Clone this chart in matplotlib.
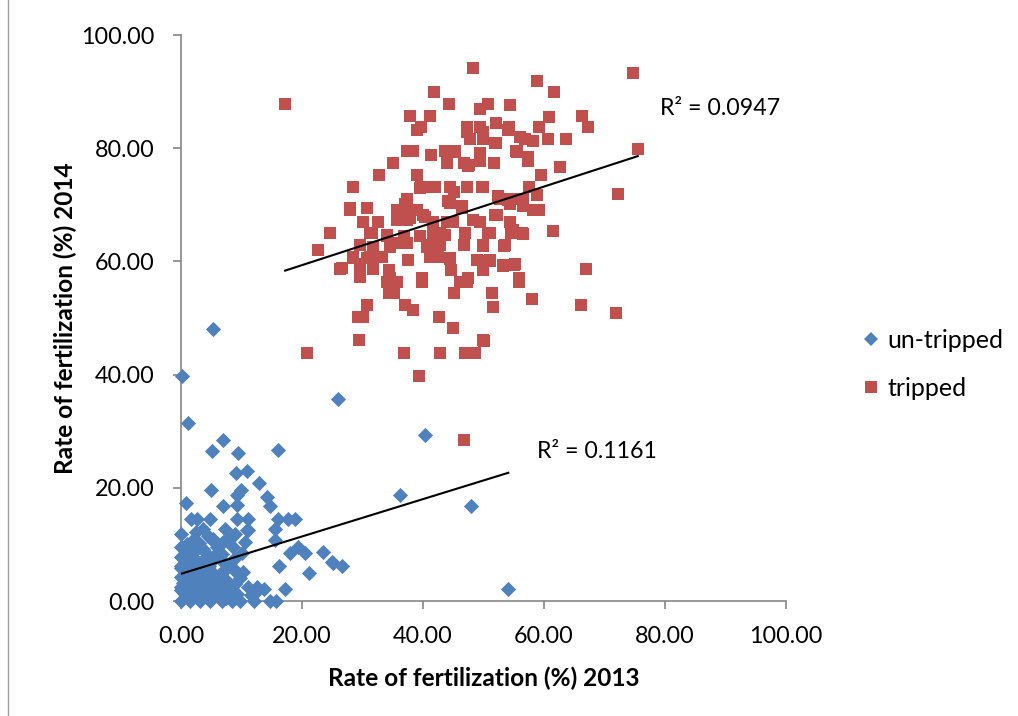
import matplotlib
matplotlib.use("Agg")
import matplotlib.pyplot as plt
from matplotlib.lines import Line2D
import numpy as np

# ---------------- data ----------------
untripped_x = [
    5.3, 0.1, 26.0, 1.2, 6.9, 5.2, 9.5, 16.0, 40.3, 36.2, 47.9, 54.1,
    4.9, 0.8, 7.0, 9.1, 10.9, 12.9, 9.9, 9.3, 14.2, 14.7, 16.1, 17.7, 18.8,
    1.7, 2.7, 4.8, 9.3, 11.0, 15.5, 15.5, 18.0, 19.4, 20.5, 23.5, 24.9, 26.6,
    21.2, 16.2, 17.2, 12.5, 14.7, 25.2, 11.0, 9.2,
    3.6, 7.3, 8.9, 10.9, 0.0, 2.0, 5.3, 7.8, 0.0, 3.7, 5.9, 8.6, 10.0,
    0.0, 2.0, 3.7, 6.4, 8.1, 0.0, 1.5, 4.8, 7.5, 9.2, 0.0, 2.6, 5.6, 7.5, 9.8,
    0.0, 1.5, 3.7, 6.2, 8.4, 11.1, 12.5,
    0.0, 1.5, 3.1, 4.8, 6.7, 8.4, 9.8, 12.0, 15.7,
    0.7, 2.6, 4.8, 7.0, 9.2, 12.0,
    1.0, 3.0, 4.5, 6.0, 2.2, 4.0, 6.5, 1.2, 3.2, 5.2, 7.2, 8.8, 2.5, 4.2,
    6.0, 1.0, 3.0, 5.0, 7.0, 0.5, 2.0, 4.0, 6.0, 8.0, 1.5, 3.5, 5.5, 10.5,
    0.0, 0.8, 2.2, 3.4, 5.8, 7.7, 9.0, 10.2, 1.8, 4.4, 6.8, 8.2, 0.4, 2.8,
    5.0, 7.4, 0.0, 1.2, 3.8, 6.6, 8.7, 2.4, 4.6, 11.6, 13.8,
]
untripped_y = [
    48.0, 39.8, 35.7, 31.4, 28.5, 26.5, 26.2, 26.6, 29.3, 18.8, 16.8, 2.1,
    19.6, 17.4, 16.7, 22.6, 23.0, 20.9, 19.6, 18.7, 18.4, 16.7, 14.5, 14.5, 14.5,
    14.5, 14.5, 14.5, 14.5, 14.5, 12.8, 10.8, 8.4, 9.6, 8.4, 8.7, 6.9, 6.2,
    5.0, 6.2, 2.1, 1.9, 0.0, 6.7, 12.5, 17.0,
    12.7, 12.7, 11.9, 12.5, 11.9, 10.8, 10.9, 10.8, 9.6, 9.2, 9.6, 9.6, 8.4,
    7.8, 7.8, 7.2, 7.5, 6.7, 6.1, 6.1, 5.5, 5.7, 4.9, 4.3, 4.0, 4.0, 3.7, 4.0,
    2.5, 2.5, 2.8, 2.5, 2.2, 2.4, 2.4,
    0.0, 0.0, 0.0, 0.0, 0.0, 0.0, 0.0, 0.0, 0.0,
    1.3, 1.0, 1.3, 1.0, 1.3, 1.3,
    3.5, 3.2, 3.0, 3.3, 5.0, 5.2, 4.8, 7.0, 6.5, 7.0, 6.8, 7.5, 9.0, 8.5,
    10.0, 10.0, 10.3, 11.0, 10.5, 1.5, 1.8, 1.5, 1.2, 1.5, 3.8, 4.5, 8.0, 10.5,
    2.0, 5.3, 6.5, 4.7, 2.0, 1.8, 3.0, 5.2, 9.0, 11.5, 8.3, 11.2, 3.2, 0.6,
    0.6, 0.5, 5.8, 8.6, 1.6, 2.8, 5.6, 12.2, 6.2, 1.0, 2.2,
]

tripped_x = [
    17.2, 48.3, 41.9, 44.3, 49.4, 50.8, 54.4, 37.9, 41.2, 39.7, 47.2, 49.4,
    52.1, 54.2, 47.8, 50.0, 52.0, 55.3, 37.3, 38.3, 41.3, 43.6, 45.3, 43.9,
    46.7, 47.5, 49.4, 49.4, 51.7, 35.0, 32.8, 39.0, 28.4, 39.7, 42.0, 44.5,
    45.2, 47.2, 49.7, 37.3, 44.5, 52.4, 54.4, 28.0, 30.7, 35.7, 38.1, 46.4,
    30.1, 32.6, 35.7, 37.3, 40.0, 41.7, 45.0, 48.3, 51.9, 54.4, 24.6, 31.5,
    22.7, 26.2, 29.6, 31.8, 34.3, 34.0, 35.7, 34.3, 35.2, 39.8, 37.6, 41.2,
    44.5, 44.7, 46.1, 47.2, 45.1, 48.9, 50.0, 51.1, 51.4, 51.5, 53.3, 54.9,
    55.8, 30.7, 29.3, 30.1, 37.0, 38.3, 42.7, 44.9, 29.5, 49.9, 20.9, 36.9,
    42.8, 46.9, 48.6, 39.4, 46.7,
    29.6, 34.0, 35.7, 37.3, 40.6, 42.8, 41.7, 43.6, 46.7, 47.0, 50.0, 51.1,
    53.6, 54.9, 28.5, 29.6, 31.2, 33.2,
    74.7, 58.8, 61.7, 66.2, 67.2, 60.9, 59.2, 56.9, 58.2, 60.6, 63.6, 55.5,
    57.4, 57.4, 75.5, 62.6, 59.5, 72.2, 57.6, 58.9, 56.3, 52.7, 54.1, 58.2,
    59.2, 61.5, 50.8, 54.6, 56.5, 53.4, 50.0, 51.0, 53.3, 55.1, 66.9, 55.9,
    58.0, 66.1, 71.9, 50.1,
    39.0, 39.5, 41.4, 27.9, 47.2, 50.0, 54.0, 56.0, 51.9, 45.0, 55.5, 41.4,
    47.6, 42.0, 50.0, 44.5, 46.4, 52.7, 56.6, 37.0, 36.2, 39.0, 37.9, 40.3,
    31.2, 34.0, 36.8, 39.5, 41.7, 31.8, 34.5, 40.6, 28.5, 30.7, 32.9, 26.6,
    29.6, 34.5, 39.8, 44.2, 52.2, 54.4, 56.6, 43.9, 49.4, 42.8, 46.9, 50.8,
    54.6, 56.3, 42.0, 42.5, 44.5, 50.8, 55.2, 47.5, 55.8,
]
tripped_y = [
    87.8, 94.1, 89.9, 87.8, 87.0, 87.8, 87.6, 85.7, 85.7, 83.7, 83.7, 83.7,
    84.5, 83.7, 81.6, 81.6, 81.0, 79.5, 79.5, 79.5, 78.8, 79.5, 79.5, 77.4,
    77.4, 76.8, 79.1, 77.7, 77.4, 77.4, 75.3, 75.3, 73.2, 73.2, 73.2, 73.2,
    72.3, 73.2, 73.2, 71.1, 70.3, 71.5, 71.0, 69.1, 69.4, 69.1, 69.1, 69.4,
    67.0, 67.0, 67.3, 67.3, 68.2, 67.0, 67.0, 67.3, 68.2, 67.0, 65.0, 65.0,
    62.1, 58.6, 58.6, 58.6, 58.5, 56.4, 56.4, 54.4, 54.4, 56.4, 60.2, 60.8,
    60.5, 58.5, 56.4, 56.4, 54.4, 60.2, 58.5, 60.2, 54.4, 51.9, 59.2, 59.4,
    56.4, 52.3, 50.2, 50.2, 52.3, 51.4, 50.2, 48.2, 46.1, 46.1, 43.9, 43.9,
    43.9, 43.9, 43.9, 39.8, 28.4,
    62.9, 64.6, 63.2, 63.2, 62.9, 62.9, 64.7, 64.7, 62.9, 65.0, 62.9, 65.0,
    62.9, 65.5, 60.8, 59.6, 60.8, 60.8,
    93.3, 91.8, 89.9, 85.7, 83.7, 85.5, 83.7, 81.6, 81.3, 81.6, 81.6, 79.5,
    78.5, 77.7, 79.8, 76.6, 75.3, 71.9, 73.1, 71.7, 71.1, 71.1, 70.9, 69.1,
    69.1, 65.4, 65.0, 65.1, 64.8, 62.7, 62.7, 60.1, 59.4, 59.4, 58.6, 56.4,
    53.4, 52.3, 50.9, 46.0,
    83.2, 72.9, 73.2, 69.4, 82.9, 82.9, 83.2, 82.0, 81.0, 79.4, 79.4, 78.8,
    77.0, 73.2, 73.1, 70.6, 69.7, 71.1, 71.1, 70.2, 69.1, 69.1, 67.6, 67.9,
    65.0, 64.4, 64.4, 64.4, 65.0, 62.6, 62.6, 62.6, 60.6, 60.6, 60.8, 58.8,
    57.3, 57.0, 57.0, 70.6, 68.2, 70.2, 69.7, 67.0, 67.0, 65.0, 65.0, 65.0,
    65.0, 65.0, 62.9, 60.8, 60.6, 60.0, 59.6, 57.0, 57.0,
]

# linear trendlines (slope, intercept) and R² as shown on the chart
untripped_trend = [0.33, 4.8]
tripped_trend = [0.347, 52.4]
untripped_r2 = "R² = 0.1161"
tripped_r2 = "R² = 0.0947"

series_names = ["un-tripped", "tripped"]
xticks = [0, 20, 40, 60, 80, 100]
yticks = [0, 20, 40, 60, 80, 100]
xlabel = "Rate of fertilization (%) 2013"
ylabel = "Rate of fertilization (%) 2014"

# ---------------- style ----------------
plt.rcParams['font.family'] = ['Lato', 'DejaVu Sans']
BLUE = "#4F81BD"
RED = "#C0504D"
GRAY = "#868686"

fig = plt.figure(figsize=(10.18, 7.16), dpi=100)
ax = fig.add_axes([181 / 1018, 1 - 601 / 716, (786 - 181) / 1018, (601 - 35) / 716])

ax.scatter(untripped_x, untripped_y, marker='D', s=60, color=BLUE,
           linewidths=0, zorder=3, clip_on=False)
ax.scatter(tripped_x, tripped_y, marker='s', s=72, color=RED,
           linewidths=0, zorder=2, clip_on=False)

for xs, coef in ((untripped_x, untripped_trend), (tripped_x, tripped_trend)):
    xr = np.array([min(xs), max(xs)])
    ax.plot(xr, coef[0] * xr + coef[1], color='black', lw=1.5, zorder=4)

ax.text(58.8, 26.5, untripped_r2, fontsize=16.7, va='center', ha='left')
ax.text(79.2, 87.1, tripped_r2, fontsize=16.7, va='center', ha='left')

ax.set_xlim(0, 100)
ax.set_ylim(0, 100)
ax.set_xticks(xticks)
ax.set_yticks(yticks)
ax.set_xticklabels([f"{v:.2f}" for v in xticks], fontsize=16.8)
ax.set_yticklabels([f"{v:.2f}" for v in yticks], fontsize=16.8)
ax.tick_params(direction='out', length=6, width=1.2, color=GRAY)
ax.tick_params(axis='x', pad=12)
ax.tick_params(axis='y', pad=13)
for side in ('top', 'right'):
    ax.spines[side].set_visible(False)
for side in ('left', 'bottom'):
    ax.spines[side].set_color(GRAY)
    ax.spines[side].set_linewidth(1.2)

ax.set_xlabel(xlabel, fontsize=17.6, fontweight='bold', labelpad=14)
ax.set_ylabel(ylabel, fontsize=17.6, fontweight='bold', labelpad=3)

handles = [
    Line2D([], [], marker='D', color=BLUE, ls='none', markersize=7.5, markeredgewidth=0),
    Line2D([], [], marker='s', color=RED, ls='none', markersize=8.5, markeredgewidth=0),
]
fig.legend(handles, series_names, loc='center left', bbox_to_anchor=(860 / 1018, 1 - 364 / 716),
           frameon=False, fontsize=18, handletextpad=0.2, labelspacing=1.0,
           handlelength=0.9, borderaxespad=0, borderpad=0)

# outer chart border
fig.add_artist(Line2D([8 / 1018, 8 / 1018], [0, 1], transform=fig.transFigure,
                      color="#A0A0A0", lw=1))

fig.savefig("out.png", dpi=100)
